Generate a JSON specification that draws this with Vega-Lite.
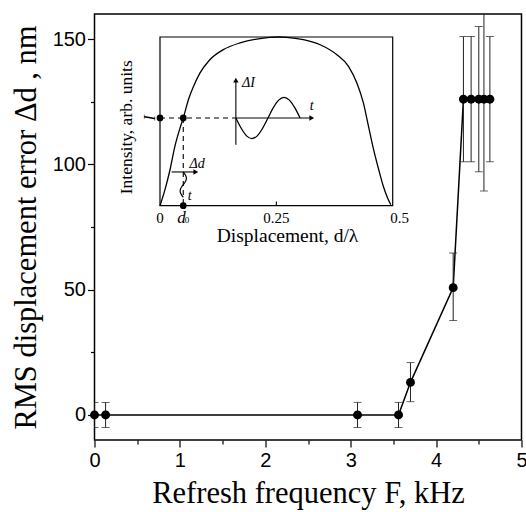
{
  "$schema": "https://vega.github.io/schema/vega-lite/v6.json",
  "width": 427,
  "height": 426,
  "autosize": "none",
  "padding": {"left": 94.5, "top": 14, "right": 4.5, "bottom": 72},
  "background": "white",
  "config": {
    "view": {"stroke": "black", "strokeWidth": 1.5},
    "axis": {
      "domain": false,
      "grid": false,
      "labelFont": "Liberation Sans",
      "labelFontSize": 20,
      "labelColor": "black",
      "tickColor": "black",
      "tickWidth": 1.2,
      "titleFont": "Liberation Serif",
      "titleFontSize": 30.5,
      "titleFontWeight": "normal",
      "titleColor": "black"
    }
  },
  "datasets": {
    "main": [
      {"F": 0.0, "d": 0, "lo": -5, "hi": 5},
      {"F": 0.13, "d": 0, "lo": -5, "hi": 5},
      {"F": 3.08, "d": 0, "lo": -5, "hi": 5},
      {"F": 3.56, "d": 0, "lo": -5, "hi": 5},
      {"F": 3.7, "d": 13, "lo": 5.3, "hi": 20.9},
      {"F": 4.2, "d": 50.8, "lo": 37.7, "hi": 64.6},
      {"F": 4.32, "d": 126, "lo": 101, "hi": 151},
      {"F": 4.41, "d": 126, "lo": 101, "hi": 151},
      {"F": 4.5, "d": 126, "lo": 97, "hi": 155},
      {"F": 4.56, "d": 126, "lo": 89.4, "hi": 162.6},
      {"F": 4.63, "d": 126, "lo": 101, "hi": 151}
    ],
    "curve": [
      {"x": 0, "y": 0}, {"x": 0.0107, "y": 0.095}, {"x": 0.0215, "y": 0.213},
      {"x": 0.032, "y": 0.352}, {"x": 0.043, "y": 0.46}, {"x": 0.05, "y": 0.52},
      {"x": 0.061, "y": 0.628}, {"x": 0.072, "y": 0.707}, {"x": 0.086, "y": 0.787},
      {"x": 0.107, "y": 0.865}, {"x": 0.136, "y": 0.925}, {"x": 0.172, "y": 0.965},
      {"x": 0.208, "y": 0.988}, {"x": 0.236, "y": 0.998}, {"x": 0.255, "y": 1.0},
      {"x": 0.272, "y": 0.998}, {"x": 0.308, "y": 0.984}, {"x": 0.344, "y": 0.954},
      {"x": 0.38, "y": 0.895}, {"x": 0.405, "y": 0.826}, {"x": 0.423, "y": 0.727},
      {"x": 0.437, "y": 0.609}, {"x": 0.448, "y": 0.47}, {"x": 0.459, "y": 0.332},
      {"x": 0.47, "y": 0.213}, {"x": 0.48, "y": 0.114}, {"x": 0.489, "y": 0.046},
      {"x": 0.496, "y": 0.006}
    ],
    "sine": [
      {"x": 0.163, "y": 0.52}, {"x": 0.1745, "y": 0.459}, {"x": 0.186, "y": 0.414},
      {"x": 0.1975, "y": 0.398}, {"x": 0.209, "y": 0.414}, {"x": 0.2205, "y": 0.459},
      {"x": 0.232, "y": 0.52}, {"x": 0.2435, "y": 0.581}, {"x": 0.255, "y": 0.626},
      {"x": 0.2665, "y": 0.642}, {"x": 0.278, "y": 0.626}, {"x": 0.2895, "y": 0.581},
      {"x": 0.301, "y": 0.52}
    ],
    "wiggle": [
      {"i": 0, "x": 0.05, "y": 0.2}, {"i": 1, "x": 0.0535, "y": 0.1875},
      {"i": 2, "x": 0.0561, "y": 0.175}, {"i": 3, "x": 0.057, "y": 0.1625},
      {"i": 4, "x": 0.0561, "y": 0.15}, {"i": 5, "x": 0.0535, "y": 0.1375},
      {"i": 6, "x": 0.05, "y": 0.125}, {"i": 7, "x": 0.0465, "y": 0.1125},
      {"i": 8, "x": 0.0439, "y": 0.1}, {"i": 9, "x": 0.043, "y": 0.0875},
      {"i": 10, "x": 0.0439, "y": 0.075}, {"i": 11, "x": 0.0465, "y": 0.0625},
      {"i": 12, "x": 0.05, "y": 0.05}
    ],
    "dashed": [
      {"x": 0, "x2": 0.163, "y": 0.52, "y2": 0.52},
      {"x": 0.05, "x2": 0.05, "y": 0.52, "y2": 0}
    ],
    "solid": [
      {"x": 0.163, "x2": 0.322, "y": 0.52, "y2": 0.52},
      {"x": 0.163, "x2": 0.163, "y": 0.362, "y2": 0.735},
      {"x": 0.025, "x2": 0.074, "y": 0.2, "y2": 0.2},
      {"x": 0.25, "x2": 0.25, "y": 0, "y2": 0.025}
    ]
  },
  "layer": [
    {
      "layer": [
        {
          "data": {"name": "main"},
          "mark": {"type": "line", "color": "black", "strokeWidth": 1.5},
          "encoding": {
            "x": {
              "field": "F", "type": "quantitative",
              "scale": {"domain": [0, 5], "nice": false, "zero": false},
              "axis": {
                "values": [0, 0.5, 1, 1.5, 2, 2.5, 3, 3.5, 4, 4.5, 5],
                "labelExpr": "datum.value % 1 === 0 ? format(datum.value, 'd') : ''",
                "tickSize": {"condition": {"test": "datum.value % 1 !== 0", "value": 4}, "value": 7},
                "labelPadding": 3,
                "labelFlush": false,
                "labelOverlap": false,
                "title": "Refresh frequency F, kHz",
                "titlePadding": 8
              }
            },
            "y": {
              "field": "d", "type": "quantitative",
              "scale": {"domain": [-10, 160], "nice": false, "zero": false},
              "axis": {
                "values": [0, 25, 50, 75, 100, 125, 150],
                "labelExpr": "datum.value % 50 === 0 ? format(datum.value, 'd') : ''",
                "tickSize": {"condition": {"test": "datum.value % 50 !== 0", "value": 4}, "value": 7},
                "labelPadding": 2,
                "labelFlush": false,
                "labelOverlap": false,
                "title": "RMS displacement error  Δd , nm",
                "titlePadding": 11
              }
            }
          }
        },
        {
          "data": {"name": "main"},
          "mark": {"type": "rule", "color": "#222", "strokeWidth": 1, "clip": true},
          "encoding": {
            "x": {"field": "F", "type": "quantitative"},
            "y": {"field": "lo", "type": "quantitative"},
            "y2": {"field": "hi"}
          }
        },
        {
          "data": {"name": "main"},
          "mark": {"type": "tick", "orient": "horizontal", "color": "#222", "size": 8, "thickness": 1, "clip": true},
          "encoding": {
            "x": {"field": "F", "type": "quantitative"},
            "y": {"field": "hi", "type": "quantitative"}
          }
        },
        {
          "data": {"name": "main"},
          "mark": {"type": "tick", "orient": "horizontal", "color": "#222", "size": 8, "thickness": 1, "clip": true},
          "encoding": {
            "x": {"field": "F", "type": "quantitative"},
            "y": {"field": "lo", "type": "quantitative"}
          }
        },
        {
          "data": {"name": "main"},
          "mark": {"type": "point", "shape": "circle", "filled": true, "color": "black", "opacity": 1, "size": 80},
          "encoding": {
            "x": {"field": "F", "type": "quantitative"},
            "y": {"field": "d", "type": "quantitative"}
          }
        }
      ]
    },
    {
      "layer": [
        {
          "data": {"values": [{"x": 0, "x2": 0.5, "y": 0, "y2": 1}]},
          "mark": {"type": "rect", "fill": "white", "fillOpacity": 0, "stroke": "black", "strokeWidth": 1.2},
          "encoding": {
            "x": {"field": "x", "type": "quantitative", "scale": {"domain": [0, 0.5], "range": [65.5, 298.2], "nice": false, "zero": false}, "axis": null},
            "x2": {"field": "x2"},
            "y": {"field": "y", "type": "quantitative", "scale": {"domain": [0, 1], "range": [191.7, 23], "nice": false, "zero": false}, "axis": null},
            "y2": {"field": "y2"}
          }
        },
        {
          "data": {"name": "curve"},
          "mark": {"type": "line", "color": "black", "strokeWidth": 1.3, "interpolate": "monotone"},
          "encoding": {
            "x": {"field": "x", "type": "quantitative"},
            "y": {"field": "y", "type": "quantitative"}
          }
        },
        {
          "data": {"name": "dashed"},
          "mark": {"type": "rule", "color": "black", "strokeWidth": 1.1, "strokeDash": [5, 4]},
          "encoding": {
            "x": {"field": "x", "type": "quantitative"},
            "x2": {"field": "x2"},
            "y": {"field": "y", "type": "quantitative"},
            "y2": {"field": "y2"}
          }
        },
        {
          "data": {"name": "solid"},
          "mark": {"type": "rule", "color": "black", "strokeWidth": 1.1},
          "encoding": {
            "x": {"field": "x", "type": "quantitative"},
            "x2": {"field": "x2"},
            "y": {"field": "y", "type": "quantitative"},
            "y2": {"field": "y2"}
          }
        },
        {
          "data": {"name": "sine"},
          "mark": {"type": "line", "color": "black", "strokeWidth": 1.3, "interpolate": "monotone"},
          "encoding": {
            "x": {"field": "x", "type": "quantitative"},
            "y": {"field": "y", "type": "quantitative"}
          }
        },
        {
          "data": {"name": "wiggle"},
          "mark": {"type": "line", "color": "black", "strokeWidth": 1.2, "interpolate": "basis"},
          "encoding": {
            "x": {"field": "x", "type": "quantitative"},
            "y": {"field": "y", "type": "quantitative"},
            "order": {"field": "i", "type": "quantitative"}
          }
        },
        {
          "data": {"values": [{"x": 0.326, "y": 0.52}, {"x": 0.077, "y": 0.2}]},
          "mark": {"type": "point", "shape": "triangle-right", "filled": true, "color": "black", "opacity": 1, "size": 30},
          "encoding": {
            "x": {"field": "x", "type": "quantitative"},
            "y": {"field": "y", "type": "quantitative"}
          }
        },
        {
          "data": {"values": [{"x": 0.163, "y": 0.745}]},
          "mark": {"type": "point", "shape": "triangle-up", "filled": true, "color": "black", "opacity": 1, "size": 30},
          "encoding": {
            "x": {"field": "x", "type": "quantitative"},
            "y": {"field": "y", "type": "quantitative"}
          }
        },
        {
          "data": {"values": [{"x": 0, "y": 0.52}, {"x": 0.05, "y": 0.52}, {"x": 0.05, "y": 0}]},
          "mark": {"type": "point", "shape": "circle", "filled": true, "color": "black", "opacity": 1, "size": 45},
          "encoding": {
            "x": {"field": "x", "type": "quantitative"},
            "y": {"field": "y", "type": "quantitative"}
          }
        },
        {
          "data": {"values": [{"x": 0, "y": -0.07, "t": "0"}, {"x": 0.25, "y": -0.07, "t": "0.25"}, {"x": 0.515, "y": -0.07, "t": "0.5"}]},
          "mark": {"type": "text", "font": "Liberation Serif", "fontSize": 15, "color": "black", "baseline": "middle"},
          "encoding": {
            "x": {"field": "x", "type": "quantitative"},
            "y": {"field": "y", "type": "quantitative"},
            "text": {"field": "t"}
          }
        },
        {
          "data": {"values": [{"x": 0.274, "y": -0.18, "t": "Displacement, d/λ"}]},
          "mark": {"type": "text", "font": "Liberation Serif", "fontSize": 19.5, "color": "black", "baseline": "middle"},
          "encoding": {
            "x": {"field": "x", "type": "quantitative"},
            "y": {"field": "y", "type": "quantitative"},
            "text": {"field": "t"}
          }
        },
        {
          "data": {"values": [{"x": 0.046, "y": -0.07, "t": "d"}]},
          "mark": {"type": "text", "font": "Liberation Serif", "fontSize": 17, "fontStyle": "italic", "color": "black", "baseline": "middle"},
          "encoding": {
            "x": {"field": "x", "type": "quantitative"},
            "y": {"field": "y", "type": "quantitative"},
            "text": {"field": "t"}
          }
        },
        {
          "data": {"values": [{"x": 0.058, "y": -0.085, "t": "0"}]},
          "mark": {"type": "text", "font": "Liberation Serif", "fontSize": 9, "color": "black", "baseline": "middle"},
          "encoding": {
            "x": {"field": "x", "type": "quantitative"},
            "y": {"field": "y", "type": "quantitative"},
            "text": {"field": "t"}
          }
        },
        {
          "data": {"values": [{"x": 0.19, "y": 0.729, "t": "ΔI"}, {"x": 0.326, "y": 0.59, "t": "t"}, {"x": 0.064, "y": 0.055, "t": "t"}, {"x": 0.08, "y": 0.249, "t": "Δd"}]},
          "mark": {"type": "text", "font": "Liberation Serif", "fontSize": 14, "fontStyle": "italic", "color": "black", "baseline": "middle"},
          "encoding": {
            "x": {"field": "x", "type": "quantitative"},
            "y": {"field": "y", "type": "quantitative"},
            "text": {"field": "t"}
          }
        },
        {
          "data": {"values": [{"x": -0.07, "y": 0.465, "t": "Intensity, arb. units"}]},
          "mark": {"type": "text", "font": "Liberation Serif", "fontSize": 17.5, "angle": 270, "color": "black", "baseline": "middle"},
          "encoding": {
            "x": {"field": "x", "type": "quantitative"},
            "y": {"field": "y", "type": "quantitative"},
            "text": {"field": "t"}
          }
        },
        {
          "data": {"values": [{"x": -0.022, "y": 0.52, "t": "I"}]},
          "mark": {"type": "text", "font": "Liberation Serif", "fontSize": 17, "fontStyle": "italic", "angle": 270, "color": "black", "baseline": "middle"},
          "encoding": {
            "x": {"field": "x", "type": "quantitative"},
            "y": {"field": "y", "type": "quantitative"},
            "text": {"field": "t"}
          }
        }
      ]
    }
  ],
  "resolve": {"scale": {"x": "independent", "y": "independent"}, "axis": {"x": "independent", "y": "independent"}}
}
